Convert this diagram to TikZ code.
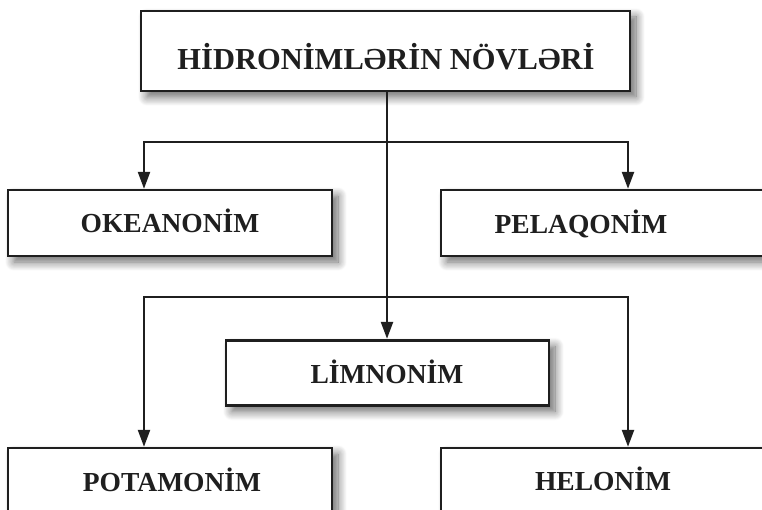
\documentclass[tikz,border=0pt]{standalone}
\usepackage{fontspec}
\setmainfont{Liberation Serif}
\usetikzlibrary{arrows.meta,shadows.blur}

\tikzset{
  frame/.style={draw=black!88, line width=2.6pt, fill=white, inner sep=0pt,
    blur shadow={shadow xshift=6pt, shadow yshift=-6pt,
      shadow blur radius=9pt, shadow blur steps=12, shadow opacity=60}},
  caption/.style={anchor=base, inner sep=0pt, font=\bfseries\fontsize{27.5}{30}\selectfont, text=black!88},
  headcaption/.style={caption, font=\bfseries\fontsize{30.5}{34}\selectfont},
  conn/.style={draw=black!88, line width=2.4pt},
  arr/.style={conn, -{Triangle[width=12pt,length=17pt]}, shorten >=1.2pt},
}

\begin{document}
\begin{tikzpicture}[x=1pt, y=-1pt]
  \useasboundingbox (0,0) rectangle (762,510);

  % boxes (corners at the frame line centres)
  \node[frame, minimum width=489pt, minimum height=80pt] (head) at (385.5,51) {};
  \node[frame, minimum width=324pt, minimum height=66pt] (oke) at (170,223) {};
  \node[frame, minimum width=350pt, minimum height=66pt] (pel) at (616,223) {};
  \node[frame, minimum width=323pt, minimum height=65pt] (lim) at (387.5,373) {};
  \node[frame, minimum width=324pt, minimum height=92pt] (pot) at (170,494) {};
  \node[frame, minimum width=350pt, minimum height=92pt] (hel) at (616,494) {};

  % labels
  \node[headcaption] (headtxt) at (386,70) {HİDRONİMLƏRİN NÖVLƏRİ};
  \node[caption] (oketxt) at (170,233) {OKEANONİM};
  \node[caption] (peltxt) at (581,234) {PELAQONİM};
  \node[caption] (limtxt) at (387,383) {LİMNONİM};
  \node[caption] (pottxt) at (172,491) {POTAMONİM};
  \node[caption] (heltxt) at (603,490) {HELONİM};

  % branching points
  \coordinate (trunk) at (387,91);
  \coordinate (j1) at (387,142);
  \coordinate (j2) at (387,297);
  \coordinate (okein) at (144,190);
  \coordinate (pelin) at (628,190);
  \coordinate (limin) at (387,340);
  \coordinate (potin) at (144,448);
  \coordinate (helin) at (628,448);

  % connectors
  \draw[arr] (trunk) -- (limin);
  \draw[arr] (j1) -| (okein);
  \draw[arr] (j1) -| (pelin);
  \draw[arr] (j2) -| (potin);
  \draw[arr] (j2) -| (helin);
\end{tikzpicture}
\end{document}
